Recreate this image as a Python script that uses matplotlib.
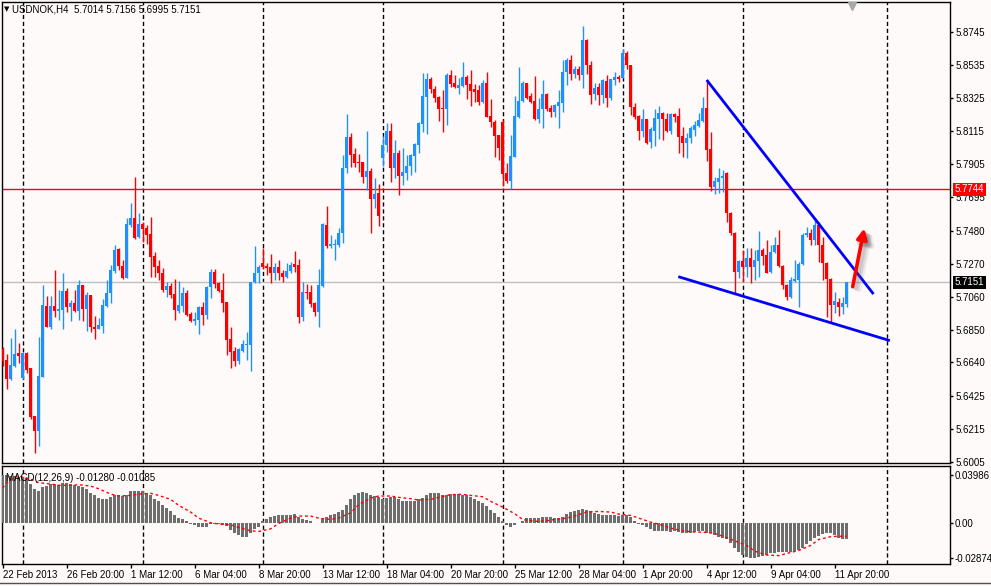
import numpy as np
import matplotlib
matplotlib.use("Agg")
import matplotlib.pyplot as plt
from matplotlib.transforms import blended_transform_factory

plt.rcParams['font.family'] = ['Liberation Sans', 'DejaVu Sans']
plt.rcParams['axes.unicode_minus'] = False

# H4 bars USDNOK, bar 0 = 22 Feb 2013 04:00
open_ = [
    5.6724, 5.6656, 5.6535, 5.6617, 5.6698, 5.6541, 5.6702, 5.6605, 5.6299, 5.6205,
    5.6549, 5.7000, 5.6868, 5.7000, 5.6970, 5.6974, 5.7096, 5.6996, 5.7021, 5.6970,
    5.7134, 5.6981, 5.7070, 5.6868, 5.6855, 5.6875, 5.7002, 5.7081, 5.7225, 5.7363,
    5.7255, 5.7181, 5.7516, 5.7559, 5.7442, 5.7523, 5.7495, 5.7459, 5.7318, 5.7255,
    5.7208, 5.7102, 5.7127, 5.7076, 5.6970, 5.7000, 5.7085, 5.6949, 5.6906, 5.6910,
    5.6995, 5.6942, 5.7119, 5.7214, 5.7148, 5.7102, 5.7027, 5.6789, 5.6713, 5.6649,
    5.6715, 5.6753, 5.6753, 5.7155, 5.7208, 5.7272, 5.7255, 5.7246, 5.7212, 5.7246,
    5.7208, 5.7187, 5.7225, 5.7267, 5.7261, 5.6927, 5.7087, 5.7087, 5.7017, 5.6959,
    5.7129, 5.7516, 5.7384, 5.7389, 5.7389, 5.7463, 5.7877, 5.8079, 5.7969, 5.7920,
    5.7920, 5.7820, 5.7862, 5.7680, 5.7718, 5.7945, 5.8026, 5.8117, 5.7877, 5.7973,
    5.7828, 5.7845, 5.7892, 5.7956, 5.8026, 5.8160, 5.8334, 5.8447, 5.8381, 5.8330,
    5.8265, 5.8254, 5.8473, 5.8420, 5.8393, 5.8405, 5.8463, 5.8414, 5.8382, 5.8378,
    5.8303, 5.8424, 5.8212, 5.8176, 5.8091, 5.8176, 5.7851, 5.7800, 5.7953, 5.8203,
    5.8310, 5.8424, 5.8339, 5.8310, 5.8193, 5.8254, 5.8352, 5.8261, 5.8240, 5.8278,
    5.8293, 5.8490, 5.8569, 5.8482, 5.8510, 5.8470, 5.8697, 5.8539, 5.8351, 5.8394,
    5.8347, 5.8436, 5.8326, 5.8443, 5.8458, 5.8453, 5.8613, 5.8534, 5.8271, 5.8211,
    5.8118, 5.8192, 5.8048, 5.8118, 5.8190, 5.8233, 5.8192, 5.8118, 5.8224, 5.8211,
    5.8084, 5.8041, 5.8073, 5.8122, 5.8148, 5.8182, 5.8260, 5.8001, 5.7761, 5.7793,
    5.7814, 5.7850, 5.7591, 5.7468, 5.7219, 5.7289, 5.7251, 5.7304, 5.7251, 5.7289,
    5.7357, 5.7325, 5.7219, 5.7346, 5.7389, 5.7255, 5.7134, 5.7060, 5.7162, 5.7166,
    5.7268, 5.7453, 5.7463, 5.7421, 5.7516, 5.7389, 5.7276, 5.7170, 5.7006, 5.7028,
    5.6996, 5.7014]
high = [
    5.6741, 5.6694, 5.6794, 5.6853, 5.6764, 5.6709, 5.6709, 5.6605, 5.6299, 5.6804,
    5.7134, 5.7064, 5.7064, 5.7229, 5.7102, 5.7210, 5.7113, 5.7038, 5.7102, 5.7166,
    5.7134, 5.7089, 5.7070, 5.6936, 5.6923, 5.7042, 5.7166, 5.7261, 5.7389, 5.7372,
    5.7293, 5.7559, 5.7655, 5.7820, 5.7595, 5.7538, 5.7516, 5.7569, 5.7346, 5.7293,
    5.7240, 5.7155, 5.7144, 5.7172, 5.7161, 5.7123, 5.7102, 5.6964, 5.6964, 5.7000,
    5.7027, 5.7127, 5.7233, 5.7233, 5.7155, 5.7208, 5.7027, 5.6868, 5.6740, 5.6730,
    5.6783, 5.6836, 5.7155, 5.7382, 5.7261, 5.7367, 5.7272, 5.7331, 5.7272, 5.7293,
    5.7229, 5.7272, 5.7282, 5.7352, 5.7297, 5.7155, 5.7140, 5.7134, 5.7023, 5.7233,
    5.7531, 5.7637, 5.7452, 5.7427, 5.7495, 5.7962, 5.8224, 5.8105, 5.8005, 5.7969,
    5.7920, 5.8117, 5.7877, 5.7814, 5.7777, 5.8086, 5.8164, 5.8164, 5.8058, 5.7994,
    5.8005, 5.7962, 5.7969, 5.8041, 5.8175, 5.8483, 5.8483, 5.8462, 5.8402, 5.8338,
    5.8378, 5.8488, 5.8505, 5.8473, 5.8452, 5.8558, 5.8473, 5.8505, 5.8416, 5.8410,
    5.8441, 5.8495, 5.8318, 5.8186, 5.8091, 5.8186, 5.7914, 5.8091, 5.8339, 5.8526,
    5.8435, 5.8424, 5.8361, 5.8467, 5.8325, 5.8441, 5.8361, 5.8282, 5.8288, 5.8378,
    5.8569, 5.8584, 5.8601, 5.8530, 5.8527, 5.8787, 5.8704, 5.8560, 5.8422, 5.8422,
    5.8445, 5.8475, 5.8449, 5.8492, 5.8475, 5.8638, 5.8624, 5.8537, 5.8296, 5.8218,
    5.8254, 5.8192, 5.8139, 5.8254, 5.8275, 5.8239, 5.8233, 5.8233, 5.8228, 5.8260,
    5.8139, 5.8105, 5.8148, 5.8182, 5.8233, 5.8330, 5.8441, 5.8112, 5.7820, 5.7878,
    5.7867, 5.7857, 5.7601, 5.7474, 5.7293, 5.7357, 5.7368, 5.7368, 5.7357, 5.7480,
    5.7368, 5.7421, 5.7389, 5.7442, 5.7485, 5.7261, 5.7140, 5.7183, 5.7293, 5.7283,
    5.7468, 5.7506, 5.7489, 5.7559, 5.7538, 5.7442, 5.7283, 5.7176, 5.7091, 5.7049,
    5.7055, 5.7156]
low = [
    5.6617, 5.6471, 5.6528, 5.6609, 5.6639, 5.6535, 5.6575, 5.6277, 5.6065, 5.6107,
    5.6549, 5.6864, 5.6853, 5.6932, 5.6911, 5.6851, 5.6964, 5.6906, 5.6964, 5.6911,
    5.6906, 5.6843, 5.6836, 5.6787, 5.6855, 5.6830, 5.6996, 5.7017, 5.7208, 5.7229,
    5.7174, 5.7181, 5.7506, 5.7427, 5.7436, 5.7410, 5.7393, 5.7187, 5.7187, 5.7165,
    5.7091, 5.7059, 5.7049, 5.6910, 5.6953, 5.6964, 5.6936, 5.6900, 5.6879, 5.6821,
    5.6879, 5.6915, 5.7049, 5.7112, 5.7091, 5.6964, 5.6687, 5.6602, 5.6617, 5.6628,
    5.6709, 5.6655, 5.6587, 5.7144, 5.7144, 5.7233, 5.7197, 5.7148, 5.7165, 5.7165,
    5.7155, 5.7176, 5.7208, 5.7219, 5.6889, 5.6906, 5.7042, 5.6995, 5.6938, 5.6868,
    5.7119, 5.7367, 5.7367, 5.7293, 5.7378, 5.7399, 5.7850, 5.7884, 5.7888, 5.7856,
    5.7786, 5.7739, 5.7467, 5.7622, 5.7512, 5.7892, 5.7984, 5.7792, 5.7814, 5.7707,
    5.7771, 5.7803, 5.7835, 5.7856, 5.7973, 5.8111, 5.8096, 5.8356, 5.8302, 5.8181,
    5.8112, 5.8155, 5.8399, 5.8393, 5.8352, 5.8399, 5.8320, 5.8276, 5.8303, 5.8282,
    5.8297, 5.8203, 5.8144, 5.7953, 5.7931, 5.7768, 5.7783, 5.7744, 5.7948, 5.8197,
    5.8303, 5.8318, 5.8297, 5.8186, 5.8165, 5.8133, 5.8246, 5.8203, 5.8208, 5.8133,
    5.8240, 5.8410, 5.8440, 5.8456, 5.8438, 5.8387, 5.8479, 5.8288, 5.8315, 5.8283,
    5.8294, 5.8266, 5.8315, 5.8411, 5.8428, 5.8453, 5.8513, 5.8220, 5.8190, 5.8058,
    5.8080, 5.8033, 5.8005, 5.8020, 5.8063, 5.8058, 5.8112, 5.8097, 5.8175, 5.7978,
    5.7948, 5.7942, 5.8037, 5.8084, 5.8143, 5.8175, 5.7927, 5.7735, 5.7714, 5.7718,
    5.7729, 5.7538, 5.7453, 5.7081, 5.7176, 5.7155, 5.7183, 5.7149, 5.7166, 5.7183,
    5.7261, 5.7208, 5.7213, 5.7340, 5.7251, 5.7106, 5.7038, 5.7049, 5.7155, 5.6992,
    5.7261, 5.7442, 5.7389, 5.7389, 5.7283, 5.7166, 5.6932, 5.6894, 5.6953, 5.6936,
    5.6949, 5.6995]
close = [
    5.6651, 5.6535, 5.6624, 5.6694, 5.6683, 5.6702, 5.6592, 5.6294, 5.6205, 5.6554,
    5.7006, 5.6868, 5.7000, 5.6970, 5.6981, 5.7096, 5.6996, 5.7021, 5.6970, 5.7134,
    5.6981, 5.7070, 5.6868, 5.6855, 5.6879, 5.7006, 5.7081, 5.7229, 5.7357, 5.7255,
    5.7181, 5.7523, 5.7559, 5.7436, 5.7523, 5.7491, 5.7453, 5.7314, 5.7250, 5.7208,
    5.7102, 5.7127, 5.7070, 5.6974, 5.7006, 5.7085, 5.6942, 5.6906, 5.6917, 5.6995,
    5.6942, 5.7123, 5.7219, 5.7140, 5.7097, 5.7021, 5.6783, 5.6709, 5.6649, 5.6726,
    5.6757, 5.6757, 5.7155, 5.7208, 5.7246, 5.7246, 5.7242, 5.7212, 5.7246, 5.7212,
    5.7187, 5.7225, 5.7261, 5.7246, 5.6927, 5.7087, 5.7080, 5.7010, 5.6959, 5.7134,
    5.7520, 5.7384, 5.7393, 5.7393, 5.7467, 5.7882, 5.8079, 5.7962, 5.7913, 5.7913,
    5.7824, 5.7862, 5.7680, 5.7714, 5.7573, 5.8026, 5.8117, 5.7877, 5.7973, 5.7828,
    5.7856, 5.7892, 5.7962, 5.8032, 5.8164, 5.8338, 5.8447, 5.8381, 5.8324, 5.8253,
    5.8254, 5.8473, 5.8416, 5.8395, 5.8410, 5.8463, 5.8410, 5.8371, 5.8367, 5.8303,
    5.8424, 5.8208, 5.8176, 5.8084, 5.8010, 5.7842, 5.7800, 5.7957, 5.8212, 5.8310,
    5.8424, 5.8325, 5.8303, 5.8193, 5.8254, 5.8352, 5.8254, 5.8240, 5.8282, 5.8303,
    5.8495, 5.8569, 5.8478, 5.8510, 5.8470, 5.8697, 5.8539, 5.8347, 5.8390, 5.8347,
    5.8443, 5.8326, 5.8447, 5.8458, 5.8449, 5.8613, 5.8534, 5.8266, 5.8203, 5.8118,
    5.8192, 5.8041, 5.8126, 5.8197, 5.8233, 5.8190, 5.8118, 5.8224, 5.8207, 5.8080,
    5.8041, 5.8073, 5.8133, 5.8154, 5.8186, 5.8260, 5.7995, 5.7761, 5.7797, 5.7818,
    5.7831, 5.7591, 5.7463, 5.7219, 5.7289, 5.7251, 5.7304, 5.7251, 5.7293, 5.7357,
    5.7319, 5.7213, 5.7346, 5.7389, 5.7255, 5.7134, 5.7060, 5.7166, 5.7170, 5.7268,
    5.7453, 5.7463, 5.7421, 5.7516, 5.7389, 5.7276, 5.7170, 5.7006, 5.7032, 5.6996,
    5.7017, 5.7151]

# MACD(12,26,9) main line (histogram) and signal (read at sample bars)
macd = [
    0.0399, 0.0396, 0.0390, 0.0385, 0.0380, 0.0378, 0.0370, 0.0325, 0.0278, 0.0267,
    0.0294, 0.0305, 0.0322, 0.0322, 0.0316, 0.0327, 0.0327, 0.0322, 0.0316, 0.0305,
    0.0294, 0.0278, 0.0250, 0.0228, 0.0206, 0.0201, 0.0201, 0.0212, 0.0228, 0.0234,
    0.0223, 0.0234, 0.0261, 0.0261, 0.0261, 0.0261, 0.0250, 0.0228, 0.0201, 0.0179,
    0.0151, 0.0124, 0.0096, 0.0069, 0.0041, 0.0030, 0.0014, -0.0006, -0.0019, -0.0028,
    -0.0036, -0.0030, -0.0008, -0.0008, -0.0008, -0.0014, -0.0025, -0.0058, -0.0080, -0.0102,
    -0.0113, -0.0113, -0.0080, -0.0047, -0.0030, 0.0014, 0.0030, 0.0047, 0.0058, 0.0063,
    0.0069, 0.0069, 0.0069, 0.0074, 0.0052, 0.0036, 0.0025, 0.0014, 0.0003, -0.0003,
    0.0036, 0.0047, 0.0063, 0.0074, 0.0091, 0.0107, 0.0146, 0.0201, 0.0234, 0.0250,
    0.0256, 0.0250, 0.0228, 0.0223, 0.0212, 0.0195, 0.0206, 0.0217, 0.0212, 0.0201,
    0.0179, 0.0179, 0.0179, 0.0179, 0.0195, 0.0206, 0.0234, 0.0245, 0.0245, 0.0245,
    0.0234, 0.0230, 0.0237, 0.0239, 0.0237, 0.0234, 0.0228, 0.0212, 0.0195, 0.0182,
    0.0162, 0.0138, 0.0107, 0.0083, 0.0052, 0.0014, -0.0014, -0.0033, -0.0019, -0.0003,
    0.0019, 0.0039, 0.0041, 0.0041, 0.0041, 0.0050, 0.0052, 0.0047, 0.0041, 0.0041,
    0.0052, 0.0074, 0.0088, 0.0099, 0.0110, 0.0118, 0.0110, 0.0096, 0.0085, 0.0074,
    0.0063, 0.0063, 0.0063, 0.0063, 0.0061, 0.0066, 0.0066, 0.0047, 0.0014, -0.0006,
    -0.0019, -0.0036, -0.0052, -0.0063, -0.0063, -0.0063, -0.0069, -0.0074, -0.0069, -0.0074,
    -0.0080, -0.0085, -0.0080, -0.0074, -0.0069, -0.0069, -0.0080, -0.0085, -0.0102, -0.0116,
    -0.0124, -0.0135, -0.0162, -0.0201, -0.0237, -0.0264, -0.0281, -0.02874, -0.0285, -0.0279,
    -0.0272, -0.0261, -0.0250, -0.0245, -0.0239, -0.0237, -0.0237, -0.0234, -0.0231, -0.0223,
    -0.0201, -0.0176, -0.0149, -0.0124, -0.0105, -0.0091, -0.0085, -0.0085, -0.0102, -0.0122,
    -0.0132, -0.0128]
sig_bar = [0, 1, 3, 4, 6, 8, 9, 12, 14, 17, 19, 22, 24, 27, 29, 32, 34, 37, 39, 42,
           44, 47, 49, 52, 54, 57, 59, 62, 64, 67, 69, 72, 74, 77, 79, 82, 84, 87, 89, 92,
           94, 97, 99, 102, 104, 107, 109, 112, 115, 117, 120, 122, 125, 128, 130, 133, 136, 138, 141, 144,
           146, 149, 152, 154, 157, 159, 162, 165, 167, 170, 173, 175, 178, 180, 183, 186, 188, 191, 194, 196,
           199, 202, 204, 207, 209, 211]
sig_val = [0.0289, 0.0333, 0.0380, 0.0388, 0.0371, 0.0349, 0.0333, 0.0322, 0.0311, 0.0311,
           0.0316, 0.0305, 0.0283, 0.0239, 0.0223, 0.0228, 0.0239, 0.0245, 0.0228, 0.0195,
           0.0146, 0.0091, 0.0041, 0.0003, -0.0008, -0.0014, -0.0036, -0.0063, -0.0069, -0.0047,
           -0.0003, 0.0041, 0.0058, 0.0058, 0.0041, 0.0030, 0.0041, 0.0085, 0.0151, 0.0206,
           0.0223, 0.0223, 0.0212, 0.0201, 0.0190, 0.0195, 0.0212, 0.0234, 0.0237, 0.0228,
           0.0217, 0.0179, 0.0132, 0.0077, 0.0030, 0.0014, 0.0019, 0.0030, 0.0041, 0.0069,
           0.0091, 0.0096, 0.0091, 0.0074, 0.0063, 0.0041, 0.0008, -0.0019, -0.0041, -0.0063,
           -0.0074, -0.0074, -0.0085, -0.0107, -0.0146, -0.0184, -0.0231, -0.0263, -0.0268, -0.0250,
           -0.0226, -0.0184, -0.0135, -0.0112, -0.0108, -0.01085]

date_bars = [0, 16, 32, 48, 64, 80, 96, 112, 128, 144, 160, 176, 192, 208]
date_labels = ['22 Feb 2013', '26 Feb 20:00', '1 Mar 12:00', '6 Mar 04:00', '8 Mar 20:00',
               '13 Mar 12:00', '18 Mar 04:00', '20 Mar 20:00', '25 Mar 12:00', '28 Mar 04:00',
               '1 Apr 20:00', '4 Apr 12:00', '9 Apr 04:00', '11 Apr 20:00']
week_bars = [5, 35, 65, 95, 125, 155, 185, 221]
price_ticks = [5.8745, 5.8535, 5.8325, 5.8115, 5.7905, 5.7695, 5.7480, 5.7270,
               5.7060, 5.6850, 5.6640, 5.6425, 5.6215, 5.6005]
macd_ticks = [0.03986, 0.0, -0.02874]
macd_tick_labels = ['0.03986', '0.00', '-0.02874']

level_line = 5.7744
bid_line = 5.7151
upper_trend = ([176, 217.7], [5.8441, 5.7076])
lower_trend = ([168.9, 221.8], [5.7187, 5.6779])
arrow_tail = (212.5, 5.7123)
arrow_tip = (215.4, 5.7495)

BG = '#fffafa'
BULL = '#1e90ff'
BEAR = '#ff0000'

W, H = 991, 586
fig = plt.figure(figsize=(W / 100, H / 100), dpi=100, facecolor=BG)

def px_box(x0, y0, x1, y1):
    return [x0 / W, 1 - y1 / H, (x1 - x0) / W, (y1 - y0) / H]

ax = fig.add_axes(px_box(1.7, 2.0, 950.3, 462.7), facecolor=BG)
ax2 = fig.add_axes(px_box(1.7, 466.3, 950.3, 563.7), facecolor=BG)

idx = np.arange(len(close))
o = np.array(open_)
c = np.array(close)
h = np.array(high)
l = np.array(low)
cols = np.where(c >= o, BULL, BEAR)

# candles
ax.vlines(idx, l, h, colors=cols, linewidth=1, zorder=3)
body = np.maximum(np.abs(c - o), 0.0007)
ax.bar(idx, body, bottom=np.minimum(o, c), width=0.75, color=cols,
       linewidth=0, zorder=4, antialiased=False)

for a in (ax, ax2):
    for b in week_bars:
        a.axvline(b, color='black', lw=1, ls=(0, (3, 2)), zorder=1)
    a.set_xlim(-0.24, 236.9)
    for s in a.spines.values():
        s.set_color('black')
        s.set_linewidth(1)

ax.axhline(level_line, color='red', lw=1, zorder=2)
ax.axhline(bid_line, color='#c0c0c0', lw=1, zorder=2)

ax.plot(*upper_trend, color='#0000ff', lw=2, zorder=5, solid_capstyle='butt')
ax.plot(*lower_trend, color='#0000ff', lw=2, zorder=5, solid_capstyle='butt')

# arrow with soft shadow
for k, al in [(1.6, 0.10), (1.1, 0.15), (0.6, 0.2)]:
    ax.annotate('', xy=(arrow_tip[0] + k, arrow_tip[1] - 0.0012 * k),
                xytext=(arrow_tail[0] + k, arrow_tail[1] - 0.0012 * k),
                arrowprops=dict(arrowstyle='-|>', color='#606060', alpha=al,
                                lw=3.5, mutation_scale=17, shrinkA=0, shrinkB=0),
                zorder=5, annotation_clip=False)
ax.annotate('', xy=arrow_tip, xytext=arrow_tail,
            arrowprops=dict(arrowstyle='-|>', color='#ff0000', lw=2.6,
                            mutation_scale=15, shrinkA=0, shrinkB=0),
            zorder=6)

ax.set_ylim(5.60008, 5.89382)
ax.set_xticks([])
ax.yaxis.tick_right()
ax.set_yticks(price_ticks)
ax.set_yticklabels([f'{v:.4f}' for v in price_ticks])
ax.tick_params(axis='y', length=2, width=1, pad=1.8, labelsize=7, colors='black')

ytr = ax.get_yaxis_transform()
ax.text(1.0050, level_line, f'{level_line:.4f}', transform=ytr, fontsize=7,
        color='white', va='center', ha='left', zorder=10, clip_on=False,
        bbox=dict(boxstyle='square,pad=0.18', fc='#ff0000', ec='none'))
ax.text(1.0050, bid_line, f'{bid_line:.4f}', transform=ytr, fontsize=7,
        color='white', va='center', ha='left', zorder=10, clip_on=False,
        bbox=dict(boxstyle='square,pad=0.18', fc='black', ec='none'))

# chart shift marker
ax.plot([212.3], [0.992], transform=blended_transform_factory(ax.transData, ax.transAxes),
        marker='v', color='#a8a8a8', ms=6, clip_on=False, zorder=8)

# MACD panel
ax2.bar(idx, macd, width=0.75, color='#6e6e6e', linewidth=0, zorder=3, antialiased=False)
ax2.plot(sig_bar, sig_val, color='red', lw=1, ls=(0, (2, 2)), zorder=4)
ax2.set_ylim(-0.033434, 0.046775)
ax2.yaxis.tick_right()
ax2.set_yticks(macd_ticks)
ax2.set_yticklabels(macd_tick_labels)
ax2.tick_params(axis='y', length=2, width=1, pad=1.2, labelsize=7)
ax2.set_xticks(date_bars)
ax2.set_xticklabels(date_labels)
ax2.tick_params(axis='x', length=3, width=1, pad=1.2, labelsize=7)
for t in ax2.get_xticklabels():
    t.set_horizontalalignment('left')

ax2.text(0.0045, 0.93, 'MACD(12,26,9) -0.01280 -0.01085', transform=ax2.transAxes,
         fontsize=7, va='top', ha='left', zorder=10)

fig.text(4 / W, 1 - 9 / H, '\u25bc', fontsize=5, va='center', ha='left',
         family=['DejaVu Sans'])
fig.text(12.5 / W, 1 - 9.5 / H, 'USDNOK,H4  5.7014 5.7156 5.6995 5.7151',
         fontsize=7, va='center', ha='left')

# window tab strip at the bottom
fig.add_artist(plt.Line2D([0, 1], [1 - 582.7 / H] * 2, color='#505050', lw=1))

fig.savefig('out.png', dpi=100, facecolor=BG)
